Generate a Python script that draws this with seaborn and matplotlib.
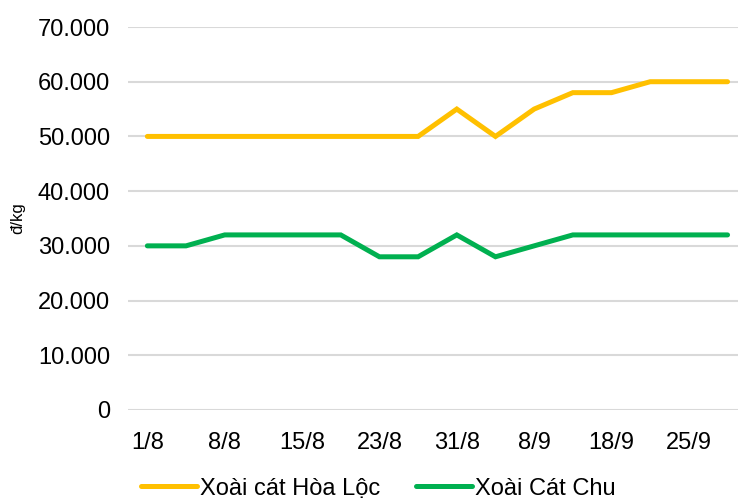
import matplotlib
matplotlib.use("Agg")
import matplotlib.pyplot as plt
import matplotlib.ticker as mticker
import seaborn as sns
import pandas as pd
import numpy as np

# x positions: 16 observations, labels shown on every other one
date_labels = ['1/8', '', '8/8', '', '15/8', '', '23/8', '',
               '31/8', '', '8/9', '', '18/9', '', '25/9', '']
hoa_loc = [50000, 50000, 50000, 50000, 50000, 50000, 50000, 50000,
           55000, 50000, 55000, 58000, 58000, 60000, 60000, 60000]
cat_chu = [30000, 30000, 32000, 32000, 32000, 32000, 28000, 28000,
           32000, 28000, 30000, 32000, 32000, 32000, 32000, 32000]
series_names = ['Xoài cát Hòa Lộc', 'Xoài Cát Chu']
colors = ['#FFC000', '#00B050']

idx = np.arange(len(date_labels))
df = pd.concat([
    pd.DataFrame({'idx': idx, 'price': hoa_loc, 'series': series_names[0]}),
    pd.DataFrame({'idx': idx, 'price': cat_chu, 'series': series_names[1]}),
])

sns.set_style('white')
plt.rcParams['font.family'] = ['Liberation Sans', 'DejaVu Sans']
plt.rcParams['text.color'] = 'black'
plt.rcParams['axes.labelcolor'] = 'black'

fig = plt.figure(figsize=(7.38, 4.99), dpi=100)
ax = fig.add_axes([128 / 738, 89 / 499, 610 / 738, 383 / 499])

sns.lineplot(data=df, x='idx', y='price', hue='series', palette=colors,
             linewidth=3.6, ax=ax, legend=False, zorder=3)
for line in ax.lines:
    line.set_solid_capstyle('round')
    line.set_solid_joinstyle('miter')

ax.set_ylim(0, 70000)
ax.set_xlim(-0.5, 15.27)
ax.yaxis.set_major_locator(mticker.MultipleLocator(10000))
ax.yaxis.set_major_formatter(mticker.FuncFormatter(
    lambda v, p: f'{int(v):,}'.replace(',', '.')))
ticks = [i for i, l in enumerate(date_labels) if l]
ax.set_xticks(ticks)
ax.set_xticklabels([date_labels[i] for i in ticks])

ax.grid(axis='y', color='#D9D9D9', linewidth=1.5, zorder=0)
ax.set_axisbelow(True)
for s in ax.spines.values():
    s.set_visible(False)
ax.tick_params(axis='y', length=0, pad=13, labelsize=17, labelcolor='#000000')
ax.tick_params(axis='x', length=0, pad=16, labelsize=17, labelcolor='#000000')
ax.set_xlabel('')
ax.set_ylabel('đ/kg', fontsize=12, labelpad=9)

handles = [plt.Line2D([], [], color=c, linewidth=3.6, solid_capstyle='round')
           for c in colors]
fig.legend(handles, series_names, loc='center', bbox_to_anchor=(0.513, 0.021),
           ncol=2, frameon=False, fontsize=17, handlelength=2.35,
           handletextpad=0.15, columnspacing=1.5, labelcolor='black')

fig.savefig('out.png', dpi=100)
